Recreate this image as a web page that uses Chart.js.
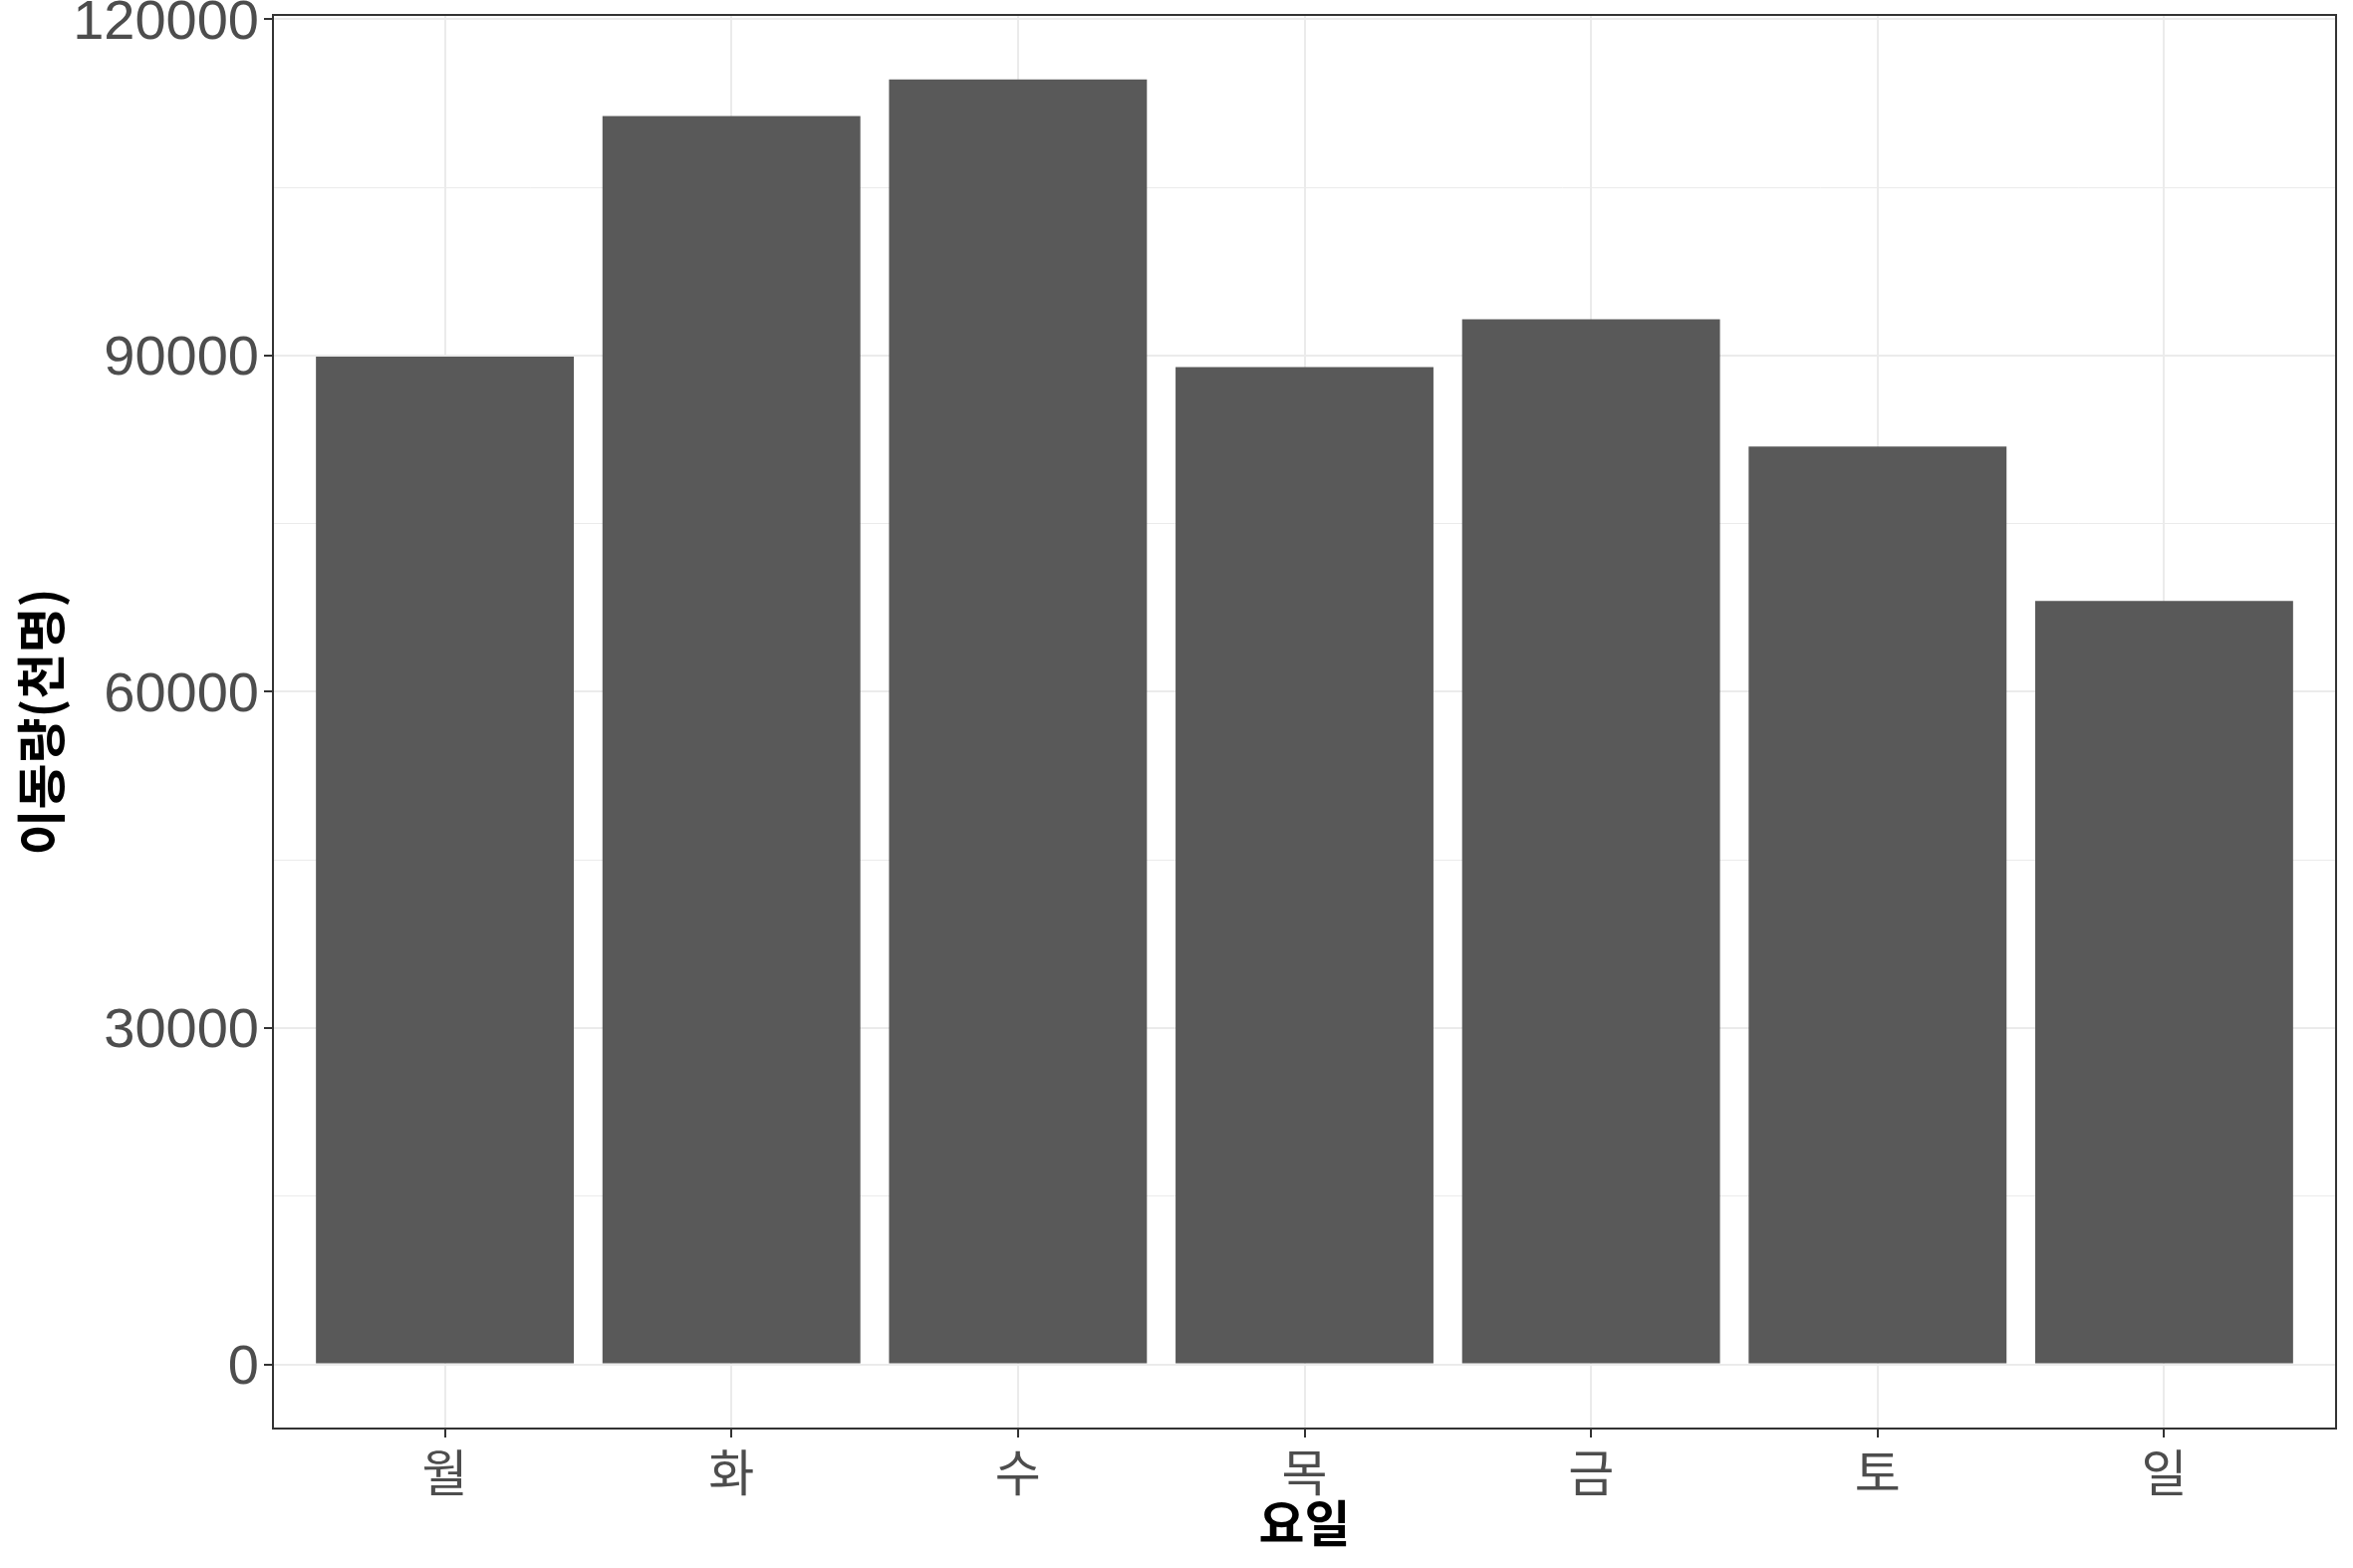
<!DOCTYPE html>
<html>
<head>
<meta charset="utf-8">
<script src="https://cdn.jsdelivr.net/npm/chart.js@4/dist/chart.umd.min.js"></script>
<style>
  html, body { margin: 0; background: #fff; }
  #wrap { width: 2362px; height: 1574px; }
</style>
</head>
<body>
<div id="wrap"><canvas id="chart"></canvas></div>
<script>
// data
const days = ['월', '화', '수', '목', '금', '토', '일'];
const trips = [89900, 111350, 114620, 88960, 93240, 81870, 68090];
const yMajor = [0, 30000, 60000, 90000, 120000];
const yMinor = [15000, 45000, 75000, 105000];

// ggplot-like panel border around the plot area
const panelBox = {
  id: 'panelBox',
  afterDraw(chart) {
    const { ctx, chartArea: a } = chart;
    ctx.save();
    ctx.strokeStyle = '#333333';
    ctx.lineWidth = 2;
    ctx.strokeRect(a.left, a.top, a.right - a.left, a.bottom - a.top);
    ctx.restore();
  }
};

const tickFont = { family: "'Liberation Sans', Arial, sans-serif", size: 56 };
const hangulTick = { family: "'Noto Sans CJK KR', sans-serif", size: 50 };
const titleFont = { family: "'Noto Sans CJK KR', sans-serif", size: 50, weight: 'bold' };

new Chart(document.getElementById('chart'), {
  type: 'bar',
  data: {
    datasets: [{
      data: trips.map((v, i) => ({ x: i, y: v })),
      backgroundColor: '#595959',
      borderWidth: 0,
      categoryPercentage: 1,
      barPercentage: 0.9
    }]
  },
  plugins: [panelBox],
  options: {
    responsive: true,
    maintainAspectRatio: false,
    devicePixelRatio: 1,
    animation: false,
    layout: { padding: { top: 15, right: 17, left: 0, bottom: 0 } },
    plugins: { legend: { display: false }, tooltip: { enabled: false } },
    scales: {
      x: {
        type: 'linear',
        min: -0.6,
        max: 6.6,
        offset: false,
        afterBuildTicks: s => { s.ticks = days.map((d, i) => ({ value: i })); },
        afterFit: s => { s.height = 140; s.paddingLeft = 0; s.paddingRight = 0; },
        ticks: {
          autoSkip: false,
          maxRotation: 0,
          padding: 5,
          color: '#4D4D4D',
          font: hangulTick,
          callback: v => days[v]
        },
        grid: {
          offset: false,
          color: '#EBEBEB',
          lineWidth: 2,
          tickLength: 9,
          tickColor: '#333333',
          tickWidth: 2
        },
        border: { display: false },
        title: {
          display: true,
          text: '요일',
          color: '#000000',
          font: titleFont,
          padding: { top: 0, bottom: 15 }
        }
      },
      y: {
        min: -5730,
        max: 120380,
        afterBuildTicks: s => {
          s.ticks = yMajor.concat(yMinor).sort((a, b) => a - b).map(v => ({ value: v }));
        },
        afterFit: s => { s.width = 274; s.paddingTop = 0; s.paddingBottom = 0; },
        ticks: {
          autoSkip: false,
          padding: 5,
          labelOffset: 4,
          color: '#4D4D4D',
          font: tickFont,
          callback: v => yMajor.includes(v) ? String(v) : ''
        },
        grid: {
          color: '#EBEBEB',
          lineWidth: c => yMajor.includes(c.tick.value) ? 2 : 1,
          tickLength: 9,
          tickColor: c => yMajor.includes(c.tick.value) ? '#333333' : 'rgba(0,0,0,0)',
          tickWidth: 2
        },
        border: { display: false },
        title: {
          display: true,
          text: '이동량(천명)',
          color: '#000000',
          font: titleFont,
          padding: { top: 11, bottom: 0 }
        }
      }
    }
  }
});
</script>
</body>
</html>
